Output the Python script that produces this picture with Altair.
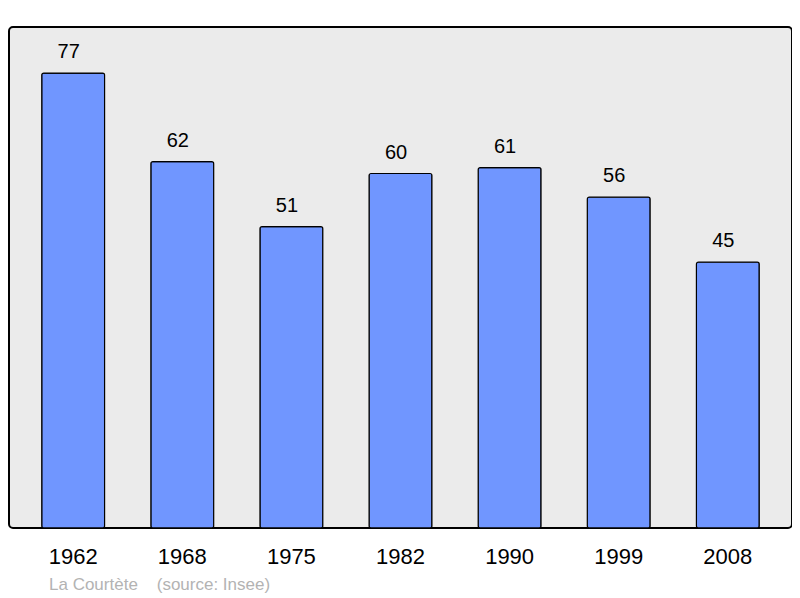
import altair as alt
import pandas as pd

years = ["1962", "1968", "1975", "1982", "1990", "1999", "2008"]
population = [77, 62, 51, 60, 61, 56, 45]

df = pd.DataFrame({"year": years, "pop": population})

x = alt.X("year:N", sort=years,
          scale=alt.Scale(paddingInner=0.424, paddingOuter=0.3),
          axis=alt.Axis(title=None, labelAngle=0, labelFontSize=22, labelColor="black",
                        labelFont="Liberation Sans", domain=False, ticks=False,
                        labelPadding=18))
y = alt.Y("pop:Q", scale=alt.Scale(domain=[0, 84.8], nice=False, zero=True), axis=None)

bars = alt.Chart(df).mark_bar(color="#7096ff", stroke="black", strokeWidth=1.2,
                              cornerRadius=2).encode(x=x, y=y)
labels = alt.Chart(df).mark_text(baseline="alphabetic", dy=-15, dx=-4.5, fontSize=20,
                                 font="Liberation Sans", color="black").encode(
    x=x, y=y, text="pop:Q")

chart = (bars + labels).properties(
    width=783, height=501,
    padding={"left": 1, "top": 19, "right": 0, "bottom": 70},
    autosize=alt.AutoSizeParams(type="none"),
    title=alt.TitleParams("La Courtète\u00a0\u00a0\u00a0\u00a0(source: Insee)", orient="bottom",
                          anchor="start", dx=40, offset=10, fontSize=17,
                          font="Liberation Sans", fontWeight="normal", color="#b3b3b3"),
).configure_view(fill="#ebebeb", stroke="black", strokeWidth=2, cornerRadius=4)

chart.save("out.html", embed_options={"renderer": "svg", "actions": False})
